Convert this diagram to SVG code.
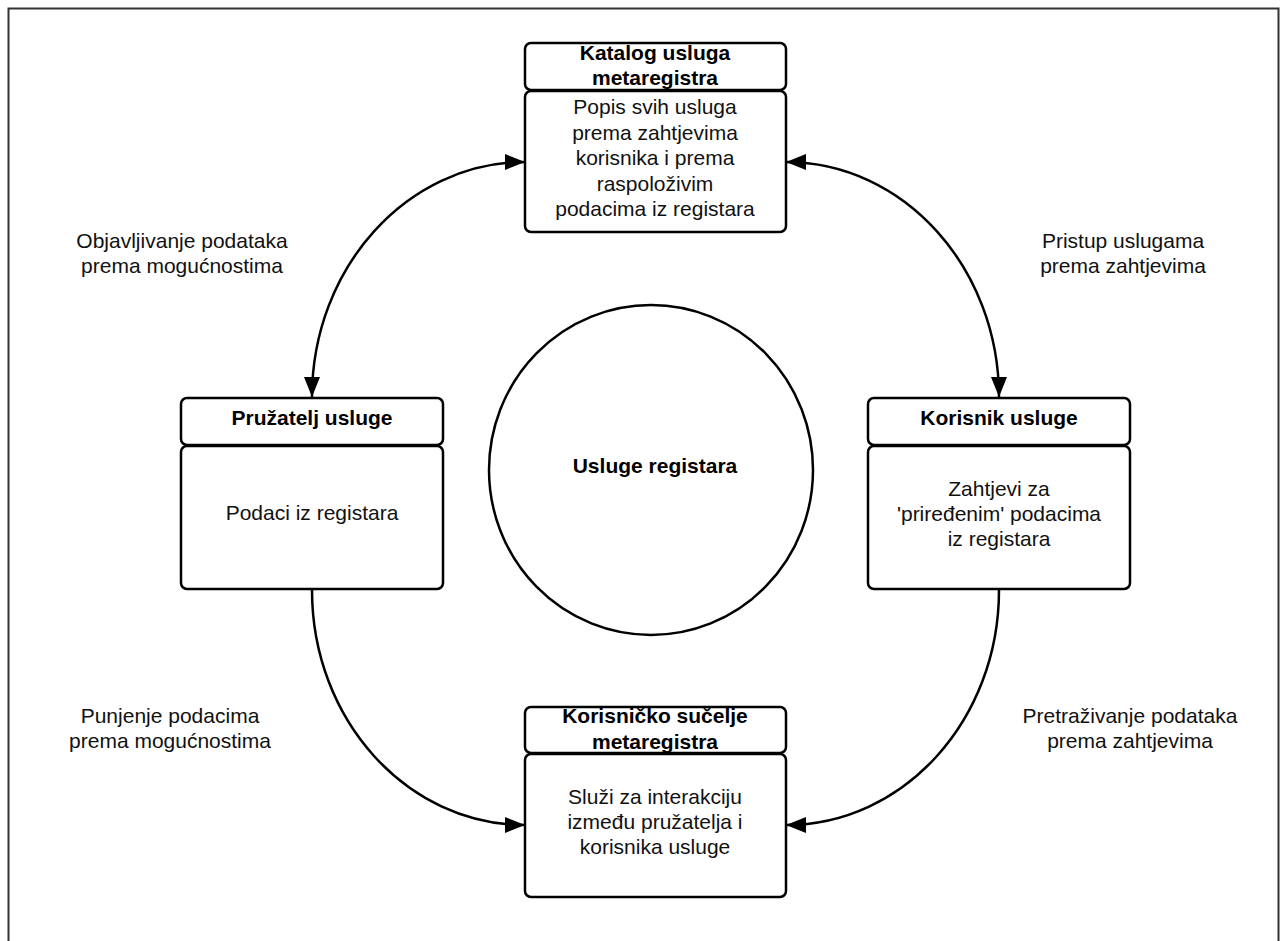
<svg xmlns="http://www.w3.org/2000/svg" width="1284" height="941" viewBox="0 0 1284 941">
<defs>
<style>
.box{fill:#fff;stroke:#000;stroke-width:2.5}
.t{font-family:"Liberation Sans",Arial,sans-serif;font-size:21px;fill:#111;text-anchor:middle}
.b{font-weight:bold;fill:#000}
.c{fill:none;stroke:#000;stroke-width:2.5}
</style>
<marker id="ah" viewBox="0 0 10 10" refX="10" refY="5" markerWidth="8" markerHeight="8" markerUnits="userSpaceOnUse" orient="auto-start-reverse">
<path d="M0,0 L10,5 L0,10 Z" fill="#000"/>
</marker>
<marker id="a" viewBox="0 0 20 16" refX="20" refY="8" markerWidth="20" markerHeight="16" markerUnits="userSpaceOnUse" orient="auto-start-reverse">
<path d="M0,0 L20,8 L0,16 Z" fill="#000"/>
</marker>
</defs>
<rect width="1284" height="941" fill="#fff"/>
<path d="M8.5,941 V8.5 H1278.5 V941" fill="none" stroke="#333" stroke-width="2"/>

<g id="connectors">
<path class="c" d="M312,397 C312,268 407,162 525,162" marker-start="url(#a)" marker-end="url(#a)"/>
<path class="c" d="M786,162 C904,162 999,268 999,397" marker-start="url(#a)" marker-end="url(#a)"/>
<path class="c" d="M312,590 C312,720 407,825 525,825" marker-end="url(#a)"/>
<path class="c" d="M999,590 C999,720 904,825 786,825" marker-end="url(#a)"/>
</g>

<g id="katalog">
<rect class="box" x="525" y="43" width="261" height="47" rx="6"/>
<rect class="box" x="525" y="91" width="261" height="141" rx="6"/>
<text class="t b" x="655" y="60">Katalog usluga</text>
<text class="t b" x="655" y="85">metaregistra</text>
<text class="t" x="655" y="114">Popis svih usluga</text>
<text class="t" x="655" y="140">prema zahtjevima</text>
<text class="t" x="655" y="165">korisnika i prema</text>
<text class="t" x="655" y="191">raspoloživim</text>
<text class="t" x="655" y="216">podacima iz registara</text>
</g>

<g id="pruzatelj">
<rect class="box" x="181" y="398" width="262" height="47" rx="6"/>
<rect class="box" x="181" y="446" width="262" height="143" rx="6"/>
<text class="t b" x="312" y="425">Pružatelj usluge</text>
<text class="t" x="312" y="520">Podaci iz registara</text>
</g>

<g id="korisnik">
<rect class="box" x="868" y="398" width="262" height="47" rx="6"/>
<rect class="box" x="868" y="446" width="262" height="143" rx="6"/>
<text class="t b" x="999" y="425">Korisnik usluge</text>
<text class="t" x="999" y="496">Zahtjevi za</text>
<text class="t" x="999" y="521">'priređenim' podacima</text>
<text class="t" x="999" y="546">iz registara</text>
</g>

<g id="sucelje">
<rect class="box" x="525" y="707" width="261" height="46" rx="6"/>
<rect class="box" x="525" y="754" width="261" height="143" rx="6"/>
<text class="t b" x="655" y="723">Korisničko sučelje</text>
<text class="t b" x="655" y="749">metaregistra</text>
<text class="t" x="655" y="804">Služi za interakciju</text>
<text class="t" x="655" y="829">između pružatelja i</text>
<text class="t" x="655" y="854">korisnika usluge</text>
</g>

<g id="usluge">
<ellipse class="box" cx="651" cy="470" rx="162" ry="165"/>
<text class="t b" x="655" y="473">Usluge registara</text>
</g>

<g id="labels">
<text class="t" x="182" y="248">Objavljivanje podataka</text>
<text class="t" x="182" y="273">prema mogućnostima</text>
<text class="t" x="1123" y="248">Pristup uslugama</text>
<text class="t" x="1123" y="273">prema zahtjevima</text>
<text class="t" x="170" y="723">Punjenje podacima</text>
<text class="t" x="170" y="748">prema mogućnostima</text>
<text class="t" x="1130" y="723">Pretraživanje podataka</text>
<text class="t" x="1130" y="748">prema zahtjevima</text>
</g>
</svg>
